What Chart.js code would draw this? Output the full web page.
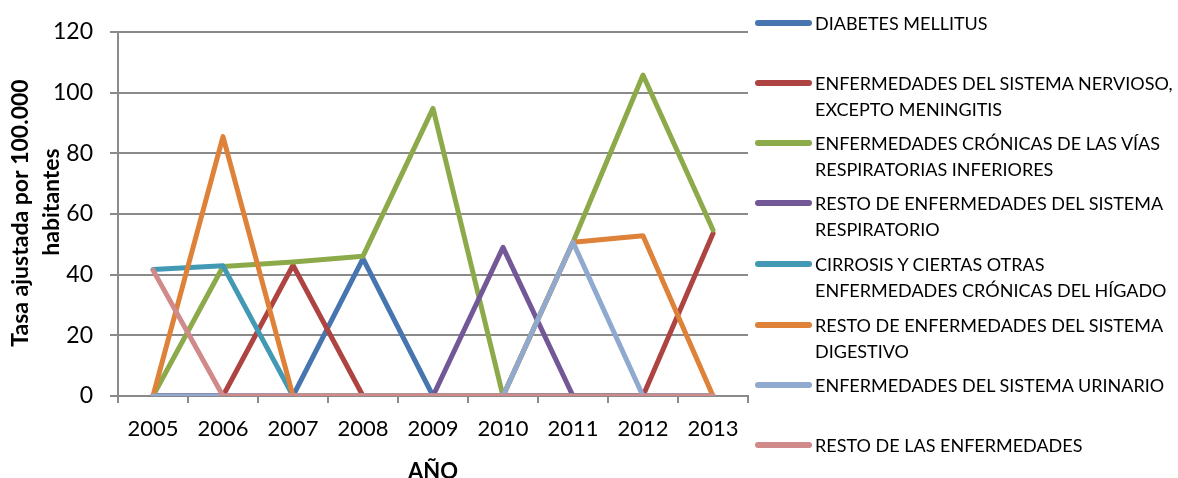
<!DOCTYPE html>
<html lang="es">
<head>
<meta charset="utf-8">
<title>Tasa ajustada de mortalidad por causa, 2005-2013</title>
<script src="https://cdn.jsdelivr.net/npm/chart.js@4"></script>
<style>
  html, body { margin: 0; padding: 0; background: #ffffff; }
  #wrap { position: relative; width: 1178px; height: 478px; overflow: hidden; }
  #chart { position: absolute; left: 0; top: 0; }
  .leg { position: absolute; left: 0; top: 0; }
  .leg-item { position: absolute; left: 755px; font-family: Lato, "Open Sans", sans-serif;
              font-size: 18px; line-height: 26.5px; color: #000; white-space: nowrap; }
  .leg-swatch { position: absolute; left: 0; width: 57px; height: 6px; border-radius: 3px; top: 10.5px; }
  .leg-text { position: absolute; left: 60px; top: 0; }
</style>
</head>
<body>
<div id="wrap">
  <canvas id="chart" width="1178" height="478"></canvas>
  <div class="leg" id="legend"></div>
</div>
<script>
// Años
const years = ['2005', '2006', '2007', '2008', '2009', '2010', '2011', '2012', '2013'];

// Tasa ajustada por 100.000 habitantes, por causa
const diabetes        = [0, 0, 0, 45.3, 0, 0, 0, 0, 0];
const nervioso        = [0, 0, 43.1, 0, 0, 0, 0, 0, 53.6];
const cronicasResp    = [0, 42.7, 44.2, 46.1, 94.8, 0, 50.7, 105.8, 54.7];
const restoResp       = [0, 0, 0, 0, 0, 49.0, 0, 0, 0];
const cirrosis        = [41.7, 42.9, 0, 0, 0, 0, 0, 0, 0];
const restoDigestivo  = [0, 85.5, 0, 0, 0, 0, 50.7, 52.8, 0];
const urinario        = [0, 0, 0, 0, 0, 0, 50.7, 0, 0];
const restoEnf        = [41.5, 0, 0, 0, 0, 0, 0, 0, 0];

// Etiquetas de la leyenda (con su corte de línea)
const seriesNames = [
  ['DIABETES MELLITUS'],
  ['ENFERMEDADES DEL SISTEMA NERVIOSO,', 'EXCEPTO MENINGITIS'],
  ['ENFERMEDADES CRÓNICAS DE LAS VÍAS', 'RESPIRATORIAS INFERIORES'],
  ['RESTO DE ENFERMEDADES DEL SISTEMA', 'RESPIRATORIO'],
  ['CIRROSIS Y CIERTAS OTRAS', 'ENFERMEDADES CRÓNICAS DEL HÍGADO'],
  ['RESTO DE ENFERMEDADES DEL SISTEMA', 'DIGESTIVO'],
  ['ENFERMEDADES DEL SISTEMA URINARIO'],
  ['RESTO DE LAS ENFERMEDADES']
];
const seriesValues = [diabetes, nervioso, cronicasResp, restoResp, cirrosis, restoDigestivo, urinario, restoEnf];
const seriesColors = ['#4675B0', '#AE4441', '#8DAA4B', '#735897', '#4299B4', '#DE8139', '#8FA9CF', '#D08A8A'];

// Ticks del eje Y
const yMin = 0, yMax = 120, yStep = 20;

// Títulos de los ejes
const yTitleLines = ['Tasa ajustada por 100.000', 'habitantes'];
const xTitle = 'AÑO';

const AXIS_GRAY = '#8a8a8a';
const FONT = 'Lato, "Open Sans", sans-serif';

const n = seriesValues.length;
const datasets = seriesValues.map((vals, i) => ({
  label: seriesNames[i].join(' '),
  data: vals,
  borderColor: seriesColors[i],
  backgroundColor: seriesColors[i],
  borderWidth: 5,
  borderCapStyle: 'round',
  borderJoinStyle: 'round',
  pointRadius: 0,
  pointHoverRadius: 0,
  tension: 0,
  fill: false,
  // later series are painted over earlier ones
  order: n - i
}));

// Axis titles painted on the canvas
const axisTitles = {
  id: 'axisTitles',
  afterDraw(chart) {
    const ctx = chart.ctx;
    ctx.save();
    ctx.fillStyle = '#000';
    ctx.font = 'bold 23px ' + FONT;
    ctx.textAlign = 'center';
    ctx.textBaseline = 'middle';
    const yCenters = [[21, 213], [52, 202]];
    yTitleLines.forEach((line, k) => {
      ctx.save();
      ctx.translate(yCenters[k][0], yCenters[k][1]);
      ctx.rotate(-Math.PI / 2);
      ctx.fillText(line, 0, 0);
      ctx.restore();
    });
    ctx.font = 'bold 22px ' + FONT;
    ctx.textBaseline = 'alphabetic';
    const ca = chart.chartArea;
    ctx.fillText(xTitle, (ca.left + ca.right) / 2, 479);
    ctx.restore();
  }
};

new Chart(document.getElementById('chart'), {
  type: 'line',
  data: { labels: years, datasets },
  plugins: [axisTitles],
  options: {
    responsive: false,
    animation: false,
    events: [],
    layout: { padding: { top: 32, right: 430, left: 0, bottom: 0 } },
    plugins: {
      legend: { display: false },
      tooltip: { enabled: false },
      title: { display: false }
    },
    scales: {
      x: {
        type: 'category',
        offset: true,
        afterFit(scale) { scale.height = 82; },
        grid: {
          display: true,
          offset: true,
          drawOnChartArea: false,
          drawTicks: true,
          tickLength: 7,
          color: AXIS_GRAY,
          lineWidth: 2
        },
        border: { display: true, color: AXIS_GRAY, width: 2 },
        ticks: {
          color: '#000',
          font: { family: FONT, size: 22 },
          padding: 13,
          maxRotation: 0,
          autoSkip: false
        }
      },
      y: {
        min: yMin,
        max: yMax,
        afterFit(scale) { scale.width = 118; },
        grid: {
          color: AXIS_GRAY,
          lineWidth: 2,
          drawTicks: true,
          tickLength: 8
        },
        border: { display: true, color: AXIS_GRAY, width: 2 },
        ticks: {
          stepSize: yStep,
          color: '#000',
          font: { family: FONT, size: 23 },
          padding: 17
        }
      }
    }
  }
});

// Leyenda a la derecha
const legendCenters = [23, 83, 143, 203, 264, 325, 385, 445];
const legendEl = document.getElementById('legend');
seriesNames.forEach((lines, i) => {
  const item = document.createElement('div');
  item.className = 'leg-item';
  item.style.top = (legendCenters[i] - 13.25) + 'px';
  const sw = document.createElement('div');
  sw.className = 'leg-swatch';
  sw.style.background = seriesColors[i];
  const tx = document.createElement('div');
  tx.className = 'leg-text';
  tx.innerHTML = lines.join('<br>');
  item.appendChild(sw);
  item.appendChild(tx);
  legendEl.appendChild(item);
});
</script>
</body>
</html>
